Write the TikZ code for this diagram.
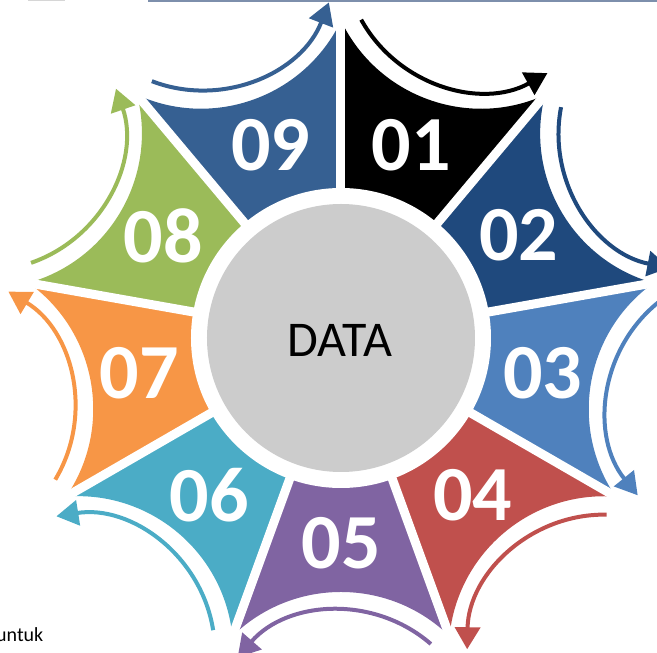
\documentclass[tikz,border=0pt]{standalone}
\usepackage{fontspec}
\setmainfont{Carlito}
\usetikzlibrary{arrows.meta,calc}
\definecolor{c1}{HTML}{000000}
\definecolor{c2}{HTML}{1F497D}
\definecolor{c3}{HTML}{4F81BD}
\definecolor{c4}{HTML}{C0504D}
\definecolor{c5}{HTML}{8064A2}
\definecolor{c6}{HTML}{4BACC6}
\definecolor{c7}{HTML}{F79646}
\definecolor{c8}{HTML}{9BBB59}
\definecolor{c9}{HTML}{366092}
\definecolor{hubgray}{HTML}{CCCCCC}
\definecolor{topline}{RGB}{125,143,172}
\tikzset{
  gapline/.style={white, line width=9pt},
  flowarrow/.style={line width=4pt, -{Triangle[length=22pt,width=25pt]}},
  num/.style={font=\bfseries\fontsize{78}{78}\selectfont, text=white, inner sep=0pt},
  hubtext/.style={font=\fontsize{50}{50}\selectfont, text=black, inner sep=0pt},
  smalltext/.style={font=\fontsize{20}{20}\selectfont, text=black, inner sep=0pt, anchor=base west}
}
\begin{document}
\begin{tikzpicture}[x=1pt,y=1pt]
\useasboundingbox (-341,-315) rectangle (316,338);
\clip (-341,-315) rectangle (316,338);
% thin strip at the top edge
\fill[topline] (-193,338) rectangle (316,336.3);
\fill[black!40, opacity=0.4] (-313,338) rectangle (-276,337);
% segments
\foreach \i/\col in {1/c1,2/c2,3/c3,4/c4,5/c5,6/c6,7/c7,8/c8,9/c9} {
  \pgfmathsetmacro\t{110-40*\i}
  \pgfmathsetmacro\a{\t+20}
  \pgfmathsetmacro\sa{\t+135.65}
  \pgfmathsetmacro\ea{\t+224.35}
  \fill[\col] (0,0) -- (\a:317.4) arc[start angle=\sa, end angle=\ea, radius=155.4] -- cycle;
}
% white gaps between segments
\foreach \b in {90,50,10,-30,-70,-110,-150,-190,-230} {
  \draw[gapline] (0,0) -- (\b:330);
}
% hub
\fill[white] (0,0) circle[radius=150];
\fill[hubgray] (0,0) circle[radius=134];
\node[hubtext] (hub) at (-1,-2) {DATA};
% arrows and numbers
\foreach \i/\col in {1/c1,2/c2,3/c3,4/c4,5/c5,6/c6,7/c7,8/c8,9/c9} {
  \pgfmathsetmacro\t{110-40*\i}
  \pgfmathsetmacro\as{\t+139}
  \pgfmathsetmacro\ae{\t+229}
  \coordinate (ac\i) at (\t:409.4);
  \draw[flowarrow, \col] ($(ac\i)+(\as:137)$) arc[start angle=\as, end angle=\ae, radius=137];
  \node[num] (n\i) at (\t:205) {0\i};
}
\node[smalltext] (untuk) at (-345,-304) {untuk};
\end{tikzpicture}
\end{document}
